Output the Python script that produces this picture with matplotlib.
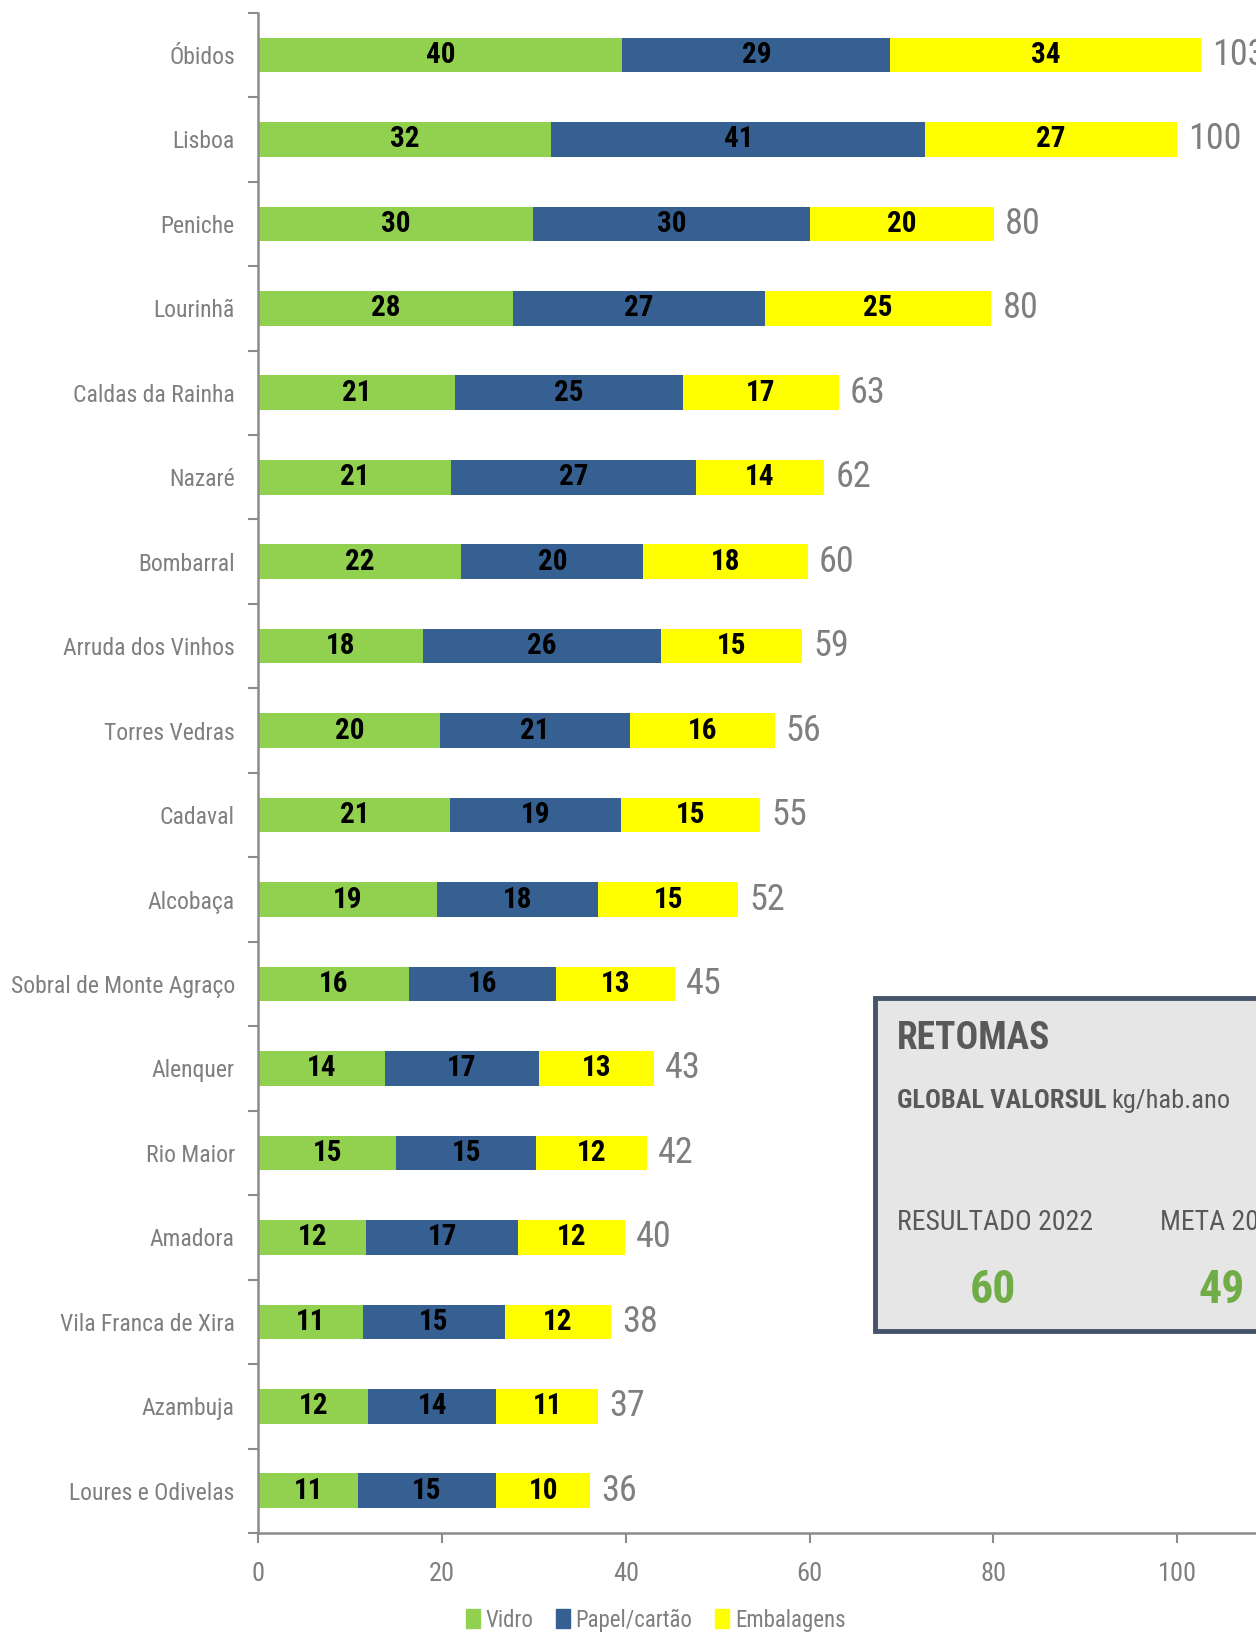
import numpy as np
import matplotlib
matplotlib.use("Agg")
import matplotlib.pyplot as plt
from matplotlib import font_manager as fm
from matplotlib.patches import Rectangle, Patch

# data (kg/hab.ano), top to bottom as in the chart
municipios = ["Óbidos", "Lisboa", "Peniche", "Lourinhã", "Caldas da Rainha", "Nazaré",
              "Bombarral", "Arruda dos Vinhos", "Torres Vedras", "Cadaval", "Alcobaça",
              "Sobral de Monte Agraço", "Alenquer", "Rio Maior", "Amadora",
              "Vila Franca de Xira", "Azambuja", "Loures e Odivelas"]
vidro = [39.6, 31.9, 29.9, 27.7, 21.4, 21.0, 22.1, 17.9, 19.8, 20.9, 19.4, 16.4,
         13.8, 15.0, 11.7, 11.4, 11.9, 10.8]
papel = [29.2, 40.7, 30.1, 27.4, 24.8, 26.6, 19.8, 25.9, 20.6, 18.6, 17.6, 16.0,
         16.7, 15.2, 16.6, 15.4, 14.0, 15.1]
embalagens = [33.8, 27.4, 20.1, 24.7, 17.0, 14.0, 17.9, 15.4, 15.8, 15.1, 15.2, 12.9,
              12.6, 12.1, 11.6, 11.6, 11.1, 10.2]
series_names = ["Vidro", "Papel/cartão", "Embalagens"]
xticks = [0, 20, 40, 60, 80, 100]

box_title = "RETOMAS"
box_sub_bold = "GLOBAL VALORSUL"
box_sub = "kg/hab.ano"
box_labels = ["RESULTADO 2022", "META 2025"]
box_values = ["60", "49"]

# pick the narrowest sans available
names = {f.name for f in fm.fontManager.ttflist}
FONT = "DejaVu Sans"
for cand in ["Roboto Condensed", "Liberation Sans Narrow", "Open Sans Condensed"]:
    if cand in names:
        FONT = cand
        break
plt.rcParams["font.family"] = [FONT, "DejaVu Sans"]
plt.rcParams["font.stretch"] = "condensed"

GREEN = "#92D050"
BLUE = "#366092"
YELLOW = "#FFFF00"
GREY = "#7F7F7F"
AXIS = "#8C8C8C"

fig = plt.figure(figsize=(12.56, 16.35), dpi=100)
ax = fig.add_axes([0.2058, 0.0624, 0.7942, 0.9298])

y = np.arange(len(municipios))
v = np.array(vidro)
p = np.array(papel)
e = np.array(embalagens)
h = 0.41

b1 = ax.barh(y, v, height=h, color=GREEN, label=series_names[0])
b2 = ax.barh(y, p, left=v, height=h, color=BLUE, label=series_names[1])
b3 = ax.barh(y, e, left=v + p, height=h, color=YELLOW, label=series_names[2])
for bars in (b1, b2, b3):
    ax.bar_label(bars, fmt="{:.0f}", label_type="center", fontsize=21,
                 fontweight="bold", color="black")

totals = v + p + e
for yi, t in zip(y, totals):
    ax.text(t + 1.2, yi, f"{t:.0f}", va="center", ha="left", fontsize=26,
            color=GREY, clip_on=False)

ax.set_xlim(0, 108.6)
ax.set_ylim(len(municipios) - 0.5, -0.5)
ax.set_yticks(y)
ax.set_yticklabels(municipios, fontsize=17, color=GREY)
ax.set_yticks(np.arange(-0.5, len(municipios), 1), minor=True)
ax.tick_params(axis="y", which="major", length=0, pad=17)
ax.tick_params(axis="y", which="minor", length=7, width=1.5, color=AXIS, direction="out")
ax.set_xticks(xticks)
ax.tick_params(axis="x", length=7, width=1.5, color=AXIS, labelsize=19,
               labelcolor=GREY, pad=14)

for s in ("top", "right"):
    ax.spines[s].set_visible(False)
for s in ("left", "bottom"):
    ax.spines[s].set_color(AXIS)
    ax.spines[s].set_linewidth(1.8)

handles = [Patch(color=c) for c in (GREEN, BLUE, YELLOW)]
fig.legend(handles, series_names, loc="center", bbox_to_anchor=(0.522, 0.009),
           ncol=3, frameon=False, fontsize=16.5, labelcolor=GREY,
           handlelength=0.6, handleheight=0.9, handletextpad=0.25, columnspacing=1.0)

# summary box (cut by the right edge, as in the source)
W, H = 1256.0, 1635.0
fig.patches.append(Rectangle((875 / W, 1 - 1331 / H), 0.5, (1331 - 998) / H,
                             transform=fig.transFigure, facecolor="#E6E6E6",
                             edgecolor="#44546A", linewidth=3.5, zorder=5))
DARK = "#595959"
fig.text(897 / W, 1 - 1038 / H, box_title, fontsize=27, fontweight="bold",
         color=DARK, va="center", ha="left", zorder=6)
t1 = fig.text(897 / W, 1 - 1101 / H, box_sub_bold, fontsize=19, fontweight="bold",
              color=DARK, va="center", ha="left", zorder=6)
fig.canvas.draw()
bb = t1.get_window_extent()
fig.text((bb.x1 + 5) / W, 1 - 1101 / H, box_sub, fontsize=19, color=DARK,
         va="center", ha="left", zorder=6)
fig.text(897 / W, 1 - 1222 / H, box_labels[0], fontsize=20, color=DARK,
         va="center", ha="left", zorder=6)
fig.text(1160 / W, 1 - 1222 / H, box_labels[1], fontsize=20, color=DARK,
         va="center", ha="left", zorder=6)
fig.text(993 / W, 1 - 1290 / H, box_values[0], fontsize=33, fontweight="bold",
         color="#70AD47", va="center", ha="center", zorder=6)
fig.text(1222 / W, 1 - 1290 / H, box_values[1], fontsize=33, fontweight="bold",
         color="#70AD47", va="center", ha="center", zorder=6)

fig.savefig("out.png", dpi=100)
plt.close(fig)
